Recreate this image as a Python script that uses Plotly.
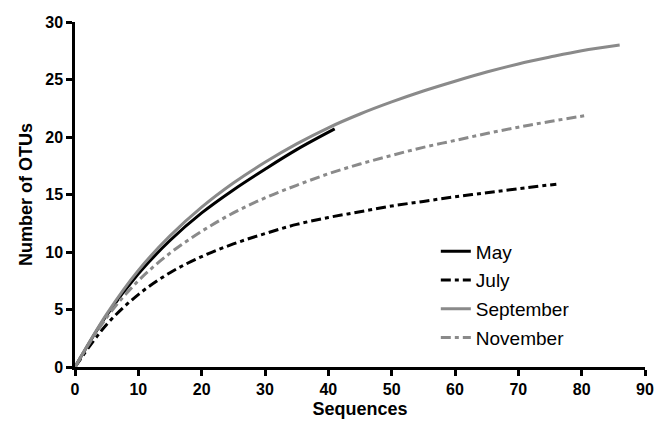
import plotly.graph_objects as go

may_x = [0, 5, 10, 15, 20, 25, 30, 35, 41]
may_y = [0, 4.5, 8.1, 11.0, 13.4, 15.4, 17.2, 18.9, 20.7]

jul_x = [0, 5, 10, 15, 20, 25, 30, 35, 40, 45, 50, 55, 60, 65, 70, 76]
jul_y = [0, 3.7, 6.3, 8.2, 9.6, 10.7, 11.6, 12.4, 13.0, 13.5, 14.0, 14.4, 14.8, 15.15, 15.5, 15.9]

sep_x = [0, 5, 10, 15, 20, 25, 30, 35, 40, 45, 50, 55, 60, 65, 70, 75, 80, 86]
sep_y = [0, 4.6, 8.4, 11.4, 13.9, 16.0, 17.8, 19.4, 20.8, 22.0, 23.05, 24.0, 24.85, 25.65, 26.35, 26.95, 27.5, 28.0]

nov_x = [0, 5, 10, 15, 20, 25, 30, 35, 40, 45, 50, 55, 60, 65, 70, 75, 81]
nov_y = [0, 4.3, 7.5, 9.9, 11.8, 13.4, 14.7, 15.8, 16.8, 17.65, 18.4, 19.1, 19.7, 20.3, 20.85, 21.35, 21.9]

x_ticks = [0, 10, 20, 30, 40, 50, 60, 70, 80, 90]
y_ticks = [0, 5, 10, 15, 20, 25, 30]

BLACK = "#000000"
GRAY = "#8a8a8a"
DASHDOT = "10px,4px,4px,4px"
FAM = "Liberation Sans, Arial, sans-serif"

fig = go.Figure()
series = [
    ("May", may_x, may_y, BLACK, "solid"),
    ("July", jul_x, jul_y, BLACK, DASHDOT),
    ("September", sep_x, sep_y, GRAY, "solid"),
    ("November", nov_x, nov_y, GRAY, DASHDOT),
]
for name, xs, ys, col, dash in series:
    fig.add_trace(go.Scatter(
        x=xs, y=ys, mode="lines", name=name, legendgroup=name,
        line=dict(color=col, width=3, dash=dash, shape="spline", smoothing=1.0),
    ))

fig.update_layout(
    width=656, height=415,
    margin=dict(l=67, r=19, t=14, b=56),
    plot_bgcolor="white", paper_bgcolor="white",
    font=dict(family=FAM, color="black"),
    legend=dict(
        x=0.633, y=0.39, xanchor="left", yanchor="top",
        traceorder="grouped", tracegroupgap=1,
        font=dict(size=19, family=FAM),
        bgcolor="rgba(0,0,0,0)",
    ),
    xaxis=dict(
        range=[0, 90], tickvals=x_ticks, showgrid=False, zeroline=False,
        showline=True, linecolor="black", linewidth=2.5, automargin=False,
        ticks="outside", ticklen=6, tickwidth=2.5, tickcolor="black",
        tickfont=dict(size=16, family=FAM, weight="bold"),
        title=dict(text="<b>Sequences</b>", font=dict(size=18), standoff=6),
    ),
    yaxis=dict(
        range=[0, 30], tickvals=y_ticks, showgrid=False, zeroline=False,
        showline=True, linecolor="black", linewidth=2.5, automargin=False,
        ticks="outside", ticklen=6, tickwidth=2.5, tickcolor="black",
        tickfont=dict(size=16, family=FAM, weight="bold"),
        title=dict(text="<b>Number of OTUs</b>", font=dict(size=18), standoff=8),
    ),
)
fig.write_html("out.html")
